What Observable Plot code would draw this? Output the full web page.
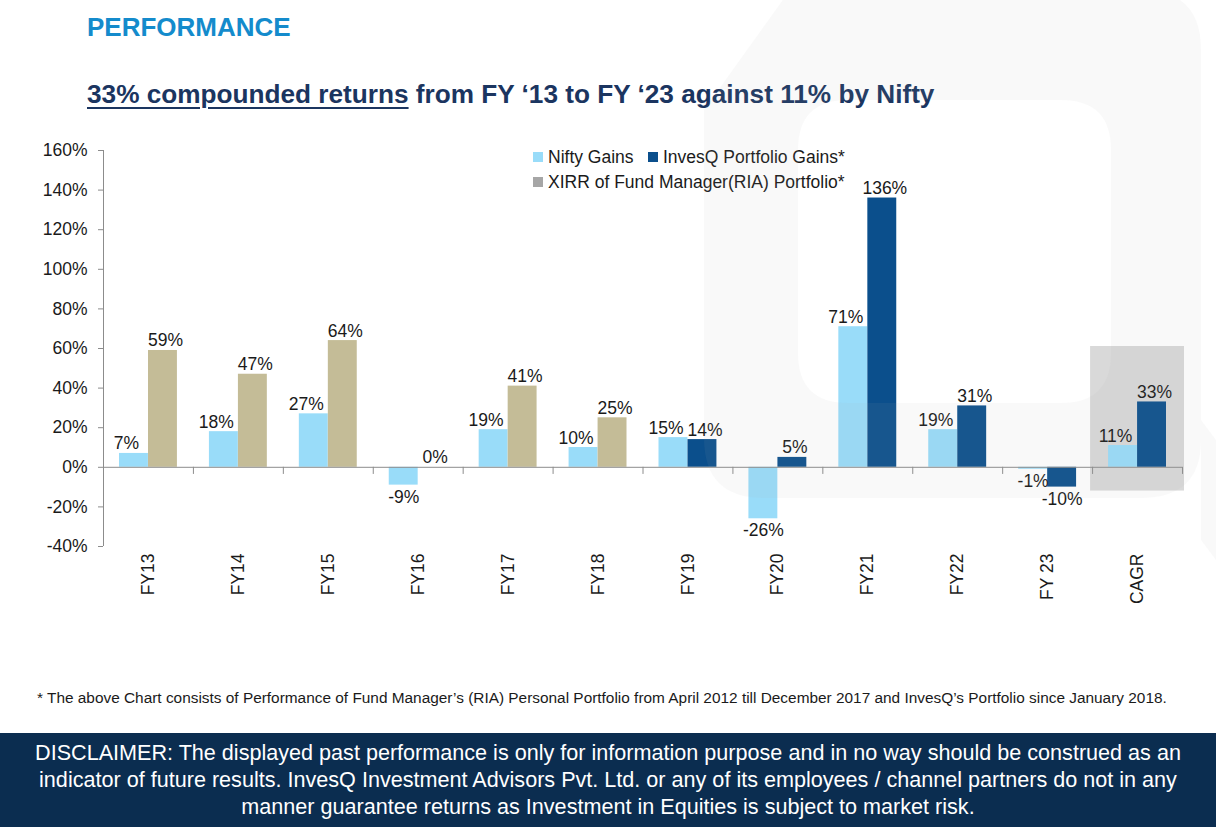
<!DOCTYPE html>
<html>
<head>
<meta charset="utf-8">
<script src="https://cdn.jsdelivr.net/npm/d3@7"></script>
<script src="https://cdn.jsdelivr.net/npm/@observablehq/plot@0.6"></script>
<style>
  html, body { margin: 0; padding: 0; background: #fff; }
  body { width: 1216px; height: 827px; position: relative; overflow: hidden;
         font-family: "Liberation Sans", Arial, sans-serif; color: #1a1a1a; }
  .abs { position: absolute; white-space: nowrap; line-height: 1; }
  #title { left: 87px; top: 14px; font-size: 26px; font-weight: bold; color: #148bcc; }
  #subtitle { left: 87px; top: 81px; font-size: 26.2px; font-weight: bold; color: #1b3560; }
  #subtitle u { text-decoration-thickness: 2px; text-underline-offset: 4px; }
  #chart { position: absolute; left: 0; top: 0; }
  .leg { position: absolute; font-size: 17.5px; line-height: 1; white-space: nowrap; color: #1a1a1a; }
  .sw { position: absolute; width: 10px; height: 10px; }
  #foot { left: 37px; top: 690px; font-size: 15.4px; color: #1a1a1a; }
  #disc { position: absolute; left: 0; top: 733px; width: 1216px; height: 94px; background: #0b2d50;
          color: #fff; font-size: 21.6px; line-height: 27px; text-align: center; padding-top: 6px; box-sizing: border-box; white-space: nowrap; }
  #wm { position: absolute; left: 0; top: 0; pointer-events: none; }
</style>
</head>
<body>
<div id="title" class="abs">PERFORMANCE</div>
<div id="subtitle" class="abs"><u>33% compounded returns</u> from FY ‘13 to FY ‘23 against 11% by Nifty</div>
<div id="chart"></div>
<div id="legend"></div>
<div id="foot" class="abs">* The above Chart consists of Performance of Fund Manager’s (RIA) Personal Portfolio from April 2012 till December 2017 and InvesQ’s Portfolio since January 2018.</div>
<div id="disc">DISCLAIMER: The displayed past performance is only for information purpose and in no way should be construed as an<br>indicator of future results. InvesQ Investment Advisors Pvt. Ltd. or any of its employees / channel partners do not in any<br>manner guarantee returns as Investment in Equities is subject to market risk.</div>
<svg id="wm" width="1216" height="827">
  <path fill="#b0b0b0" fill-opacity="0.075" fill-rule="evenodd"
    d="M704,110 L790,-10 H1141 Q1201,-10 1201,50 V440 Q1201,498 1141,498 H764 Q704,498 704,438 Z
       M848,100 H1061 Q1111,100 1111,150 V353 Q1111,403 1061,403 H848 Q798,403 798,353 V150 Q798,100 848,100 Z"/>
  <path fill="#b0b0b0" fill-opacity="0.075" d="M1201,420 L1216,440 V560 L1201,540 Z"/>
</svg>
<script>
const categories = ["FY13","FY14","FY15","FY16","FY17","FY18","FY19","FY20","FY21","FY22","FY 23","CAGR"];
const niftyGains      = [7, 18, 27, -9, 19, 10, 15, -26, 71, 19, -1, 11];
const xirrFundManager = [59, 47, 64, 0, 41, 25, null, null, null, null, null, null];
const invesqGains     = [null, null, null, null, null, null, 14, 5, 136, 31, -10, 33];
const yTicks = [-40, -20, 0, 20, 40, 60, 80, 100, 120, 140, 160];
const seriesNames = ["Nifty Gains", "InvesQ Portfolio Gains*", "XIRR of Fund Manager(RIA) Portfolio*"];
const seriesColors = ["#99dcf9", "#0b4f8c", "#c4bc97"];
const legendColors = ["#99dcf9", "#0b4f8c", "#a6a6a6"];
const highlight = [{category: "CAGR", from: -12, to: 61}];

const nifty = categories.map((c, i) => ({cat: c, value: niftyGains[i], series: seriesNames[0]}));
const right = categories.map((c, i) => xirrFundManager[i] != null
  ? {cat: c, value: xirrFundManager[i], series: seriesNames[2]}
  : {cat: c, value: invesqGains[i], series: seriesNames[1]});

const axisGray = "#8c8c8c";
const pct = d => d.value + "%";
const half = (1216 - 103 - 34) / categories.length / 2;

const chart = Plot.plot({
  width: 1216, height: 660,
  marginTop: 150, marginBottom: 114, marginLeft: 103, marginRight: 34,
  style: {fontFamily: '"Liberation Sans", Arial, sans-serif', fontSize: "17.5px", color: "#1a1a1a", background: "transparent"},
  x: {domain: categories, padding: 0, round: false, label: null},
  y: {domain: [-40, 160], label: null},
  color: {domain: seriesNames, range: seriesColors},
  marks: [
    Plot.barY(highlight, {x: "category", y1: "from", y2: "to", fill: "#d9d9d9", insetLeft: -2, insetRight: -2}),
    Plot.barY(nifty, {x: "cat", y: "value", fill: "series", insetLeft: 16, insetRight: 45}),
    Plot.barY(right, {x: "cat", y: "value", fill: "series", insetLeft: 45, insetRight: 16}),
    Plot.ruleY([0], {stroke: axisGray}),
    Plot.ruleX(categories, {x: d => d, dx: -half, y1: () => 0, y2: () => -3.6, stroke: axisGray}),
    Plot.ruleX([categories[categories.length - 1]], {x: d => d, dx: half, y1: () => 0, y2: () => -3.6, stroke: axisGray}),
    Plot.ruleX([categories[0]], {x: d => d, dx: -half, y1: () => -40, y2: () => 160, stroke: axisGray}),
    Plot.axisY({ticks: yTicks, tickFormat: d => d + "%", tickSize: 5, tickPadding: 11, stroke: axisGray, fill: "#1a1a1a", label: null}),
    Plot.axisX({tickSize: 0, tickRotate: -90, tickPadding: 7, fill: "#1a1a1a", label: null}),
    Plot.text(nifty.filter(d => d.value >= 0), {x: "cat", y: "value", text: pct, dx: -22, dy: -4, lineAnchor: "bottom", fill: "#1a1a1a"}),
    Plot.text(nifty.filter(d => d.value < 0), {x: "cat", y: "value", text: pct, dx: -14.5, dy: 5, lineAnchor: "top", fill: "#1a1a1a"}),
    Plot.text(right.filter(d => d.value >= 0), {x: "cat", y: "value", text: pct, dx: 17, dy: -4, lineAnchor: "bottom", fill: "#1a1a1a"}),
    Plot.text(right.filter(d => d.value < 0), {x: "cat", y: "value", text: pct, dx: 14.5, dy: 5, lineAnchor: "top", fill: "#1a1a1a"})
  ]
});
document.getElementById("chart").appendChild(chart);

// legend
const legend = document.getElementById("legend");
const legendPos = [{x: 533, y: 150}, {x: 648, y: 150}, {x: 533, y: 175}];
seriesNames.forEach((name, i) => {
  const sw = document.createElement("div");
  sw.className = "sw";
  sw.style.left = legendPos[i].x + "px";
  sw.style.top = (legendPos[i].y + 2) + "px";
  sw.style.background = legendColors[i];
  legend.appendChild(sw);
  const t = document.createElement("div");
  t.className = "leg";
  t.style.left = (legendPos[i].x + 15) + "px";
  t.style.top = (legendPos[i].y - 1) + "px";
  t.textContent = name;
  legend.appendChild(t);
});
</script>
</body>
</html>
